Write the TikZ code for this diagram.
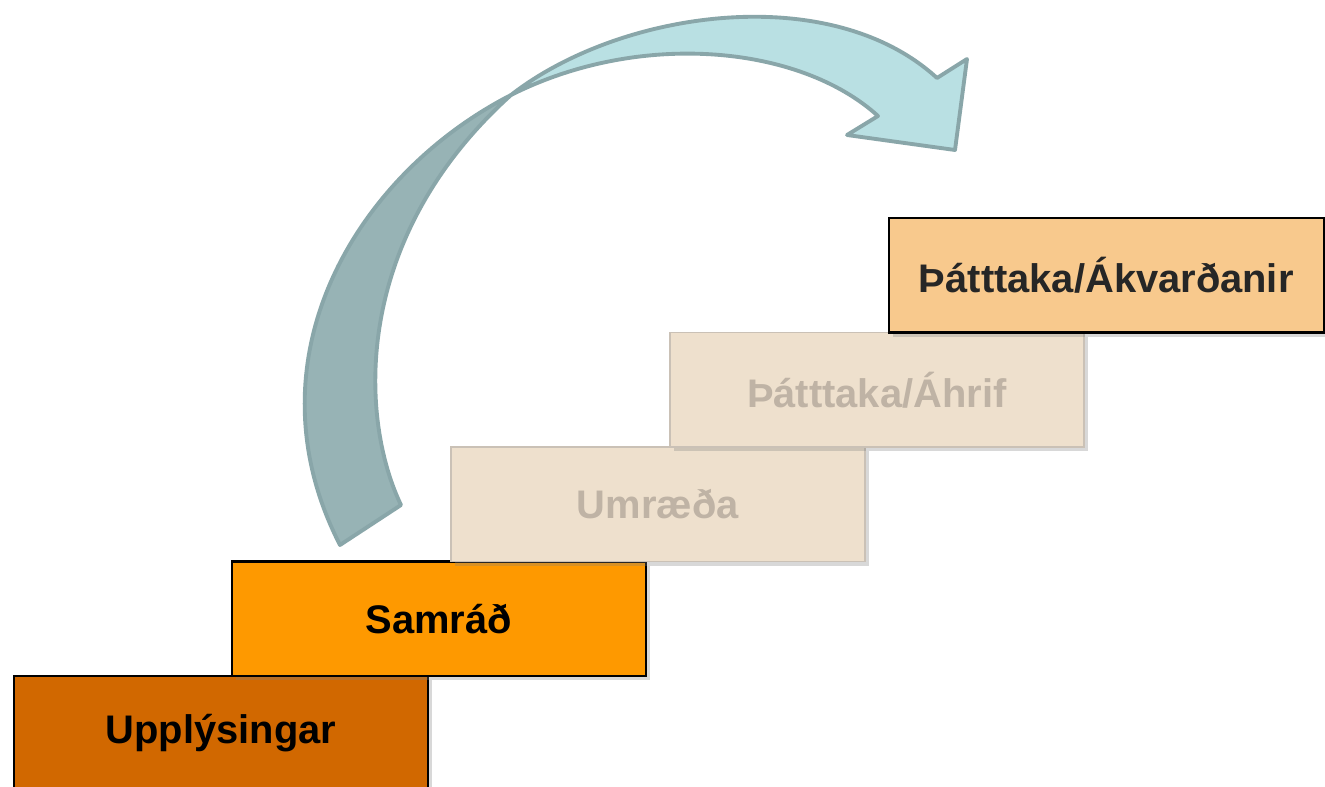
\documentclass[tikz,border=0pt]{standalone}
\usepackage{fontspec}
\setmainfont{Liberation Sans}
\usetikzlibrary{positioning,shadows}

% colours of the steps and of the arrow
\definecolor{upplcol}{HTML}{D16800}
\definecolor{samcol}{HTML}{FE9900}
\definecolor{akvcol}{HTML}{F8C98D}
\definecolor{akvtext}{HTML}{262626}
\definecolor{fadefill}{HTML}{EEE0CD}
\definecolor{fadeline}{HTML}{CAC1B6}
\definecolor{fadetext}{HTML}{BFB3A5}
\definecolor{arrdark}{HTML}{97B3B5}
\definecolor{arrlight}{HTML}{B9E0E3}
\definecolor{arrline}{HTML}{89A6A9}

\begin{document}
\begin{tikzpicture}[%
    x=0.02cm, y=-0.02cm,        % one unit is one pixel of the layout
    ]
% -------------------------------------------------
% Box styles for the stairs
\tikzset{
  stair/.style={draw=black, line width=1.3pt, inner sep=0pt, outer sep=0pt,
    minimum width=8.28cm, minimum height=2.29cm,
    font=\bfseries\fontsize{22.7}{27}\selectfont,
    drop shadow={shadow xshift=0.08cm, shadow yshift=-0.08cm, opacity=0.3}},
  faded/.style={stair, draw=fadeline, line width=0.8pt, fill=fadefill, text=fadetext},
  % outline of the curved arrow
  arrowline/.style={draw=arrline, line width=2.2pt, line join=round},
}
\useasboundingbox (0,0) rectangle (1325,787);
\fill[white] (0,0) rectangle (1325,787);
\clip (0,0) rectangle (1325,787);
% -------------------------------------------------
% Stairs, going up to the right
\node [stair, fill=upplcol, anchor=north west] (upply) at (14,676) {Upplýsingar};
\node [stair, fill=samcol, anchor=south west] (samrad)
  at ([xshift=4.36cm]upply.north west) {Samráð};
\node [faded, anchor=south west] (umraeda)
  at ([xshift=4.38cm]samrad.north west) {Umræða};
\node [faded, anchor=south west] (ahrif)
  at ([xshift=4.38cm]umraeda.north west) {Þátttaka/Áhrif};
\node [stair, fill=akvcol, text=akvtext, minimum width=8.7cm, anchor=south west] (akv)
  at ([xshift=4.38cm]ahrif.north west) {Þátttaka/Ákvarðanir};

% -------------------------------------------------
% Twisted arrow from the lower steps to the top
\coordinate (twist) at (511,95);
\filldraw[arrowline, fill=arrdark] (340,545) -- (401,505)
  .. controls (360,420) and (350,240) .. (twist)
  .. controls (355,175) and (245,360) .. (340,545) -- cycle;
\filldraw[arrowline, fill=arrlight] (twist)
  .. controls (620,10) and (830,-20) .. (937,78)
  -- (967,59) -- (955,150) -- (847,135) -- (878,116)
  .. controls (800,45) and (640,30) .. (twist) -- cycle;
% -------------------------------------------------
\end{tikzpicture}
\end{document}
